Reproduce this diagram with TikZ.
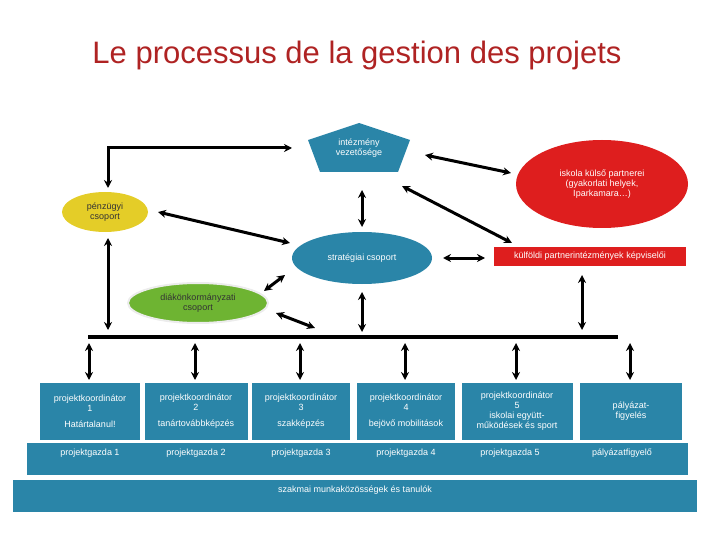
\documentclass[tikz,border=0pt]{standalone}
\usepackage{fontspec}
\setmainfont{Liberation Sans}
\usetikzlibrary{arrows.meta,shapes.geometric}
\definecolor{bl}{RGB}{42,133,168}
\definecolor{rd}{RGB}{222,30,30}
\definecolor{yl}{RGB}{228,205,40}
\definecolor{gr}{RGB}{110,180,50}
\definecolor{tt}{RGB}{175,35,35}
\tikzset{
 arr/.style={line width=3pt,{Stealth[length=8pt,width=8pt]}-{Stealth[length=8pt,width=8pt]}},
 txt/.style={text=white,font=\fontsize{9}{10}\selectfont,align=center},
 blbox/.style={fill=bl,draw=none,inner sep=0pt,txt},
}
\begin{document}
\begin{tikzpicture}[x=1pt,y=-1pt]
\useasboundingbox (0,0) rectangle (720,540);
\node[text=tt,font=\fontsize{31}{34}\selectfont] (title) at (357,55) {Le processus de la gestion des projets};
% top level
\fill[bl] (359,123) -- (410,140) -- (398,172) -- (320,172) -- (308,140) -- cycle;
\node[txt,minimum width=100pt,minimum height=49pt] (inst) at (359,148) {intézmény\\vezetősége};
\node[ellipse,fill=rd,minimum width=172pt,minimum height=88pt,txt] (ext) at (602,184) {iskola külső partnerei\\(gyakorlati helyek,\\Iparkamara…)};
\node[ellipse,fill=yl,minimum width=86pt,minimum height=40pt,txt,text=black!80] (fin) at (105,212) {pénzügyi\\csoport};
\node[ellipse,fill=bl,minimum width=140pt,minimum height=52pt,txt] (str) at (362,258) {stratégiai csoport};
\node[ellipse,fill=gr,draw=white!85!gray,line width=2pt,minimum width=140pt,minimum height=40pt,txt,text=black!80] (stu) at (198,303) {diákönkormányzati\\csoport};
\node[fill=rd,minimum width=192pt,minimum height=19pt,inner sep=0pt,txt] (fore) at (590,256) {külföldi partnerintézmények képviselői};
% bar
\coordinate (b1) at (88,337); \coordinate (b2) at (618,337);
\draw[line width=3.5pt] (b1) -- (b2);
% coordinators
\foreach \n/\x/\w/\t in {1/90/100/{projektkoordinátor\\1\\[6pt]Határtalanul!},
 2/196/103/{projektkoordinátor\\2\\[6pt]tanártovábbképzés},
 3/301/98/{projektkoordinátor\\3\\[6pt]szakképzés},
 4/406/98/{projektkoordinátor\\4\\[6pt]bejövő mobilitások},
 5/517/111/{projektkoordinátor\\5\\iskolai együtt-\\működések és sport},
 6/631/102/{pályázat-\\figyelés}}{
 \node[blbox,minimum width=\w pt,minimum height=57pt] (k\n) at (\x,411.5) {\t};
 \coordinate (t\n) at ([xshift=-1pt]k\n.north|-0,343);
 \coordinate (u\n) at ([xshift=-1pt]k\n.north|-0,380);
 \draw[arr] (t\n) -- (u\n);
}
\node[blbox,minimum width=661pt,minimum height=32pt] (row2) at (357.5,459) {};
\foreach \n/\x/\t in {1/90/projektgazda 1,2/196/projektgazda 2,3/301/projektgazda 3,4/406/projektgazda 4,5/510/projektgazda 5,6/622/pályázatfigyelő}
 \node[txt] (g\n) at (\x,453) {\t};
\node[blbox,minimum width=684pt,minimum height=32pt] (row3) at (355,496) {};
\node[txt] (row3t) at (355,490) {szakmai munkaközösségek és tanulók};
% connectors
\coordinate (c1) at (108,148);
\coordinate (c2) at (292,148);
\coordinate (c3) at (108,188);
\draw[arr] (c3) -- (c1) -- (c2);
\coordinate (p1) at (425,155); \coordinate (p2) at (511,173);
\draw[arr] (p1) -- (p2);
\coordinate (p3) at (402,186); \coordinate (p4) at (512,243);
\draw[arr] (p3) -- (p4);
\coordinate (p5) at (362,190); \coordinate (p6) at (362,227);
\draw[arr] (p5) -- (p6);
\coordinate (p7) at (158,212); \coordinate (p8) at (290,243);
\draw[arr] (p7) -- (p8);
\coordinate (p9) at (443,258); \coordinate (p10) at (485,258);
\draw[arr] (p9) -- (p10);
\coordinate (p11) at (264,291); \coordinate (p12) at (285,275);
\draw[arr] (p11) -- (p12);
\coordinate (p13) at (276,313); \coordinate (p14) at (315,328);
\draw[arr] (p13) -- (p14);
\coordinate (p15) at (362,292); \coordinate (p16) at (362,332);
\draw[arr] (p15) -- (p16);
\coordinate (p17) at (582,275); \coordinate (p18) at (582,330);
\draw[arr] (p17) -- (p18);
\coordinate (p19) at (108,238); \coordinate (p20) at (108,330);
\draw[arr] (p19) -- (p20);
\end{tikzpicture}
\end{document}
